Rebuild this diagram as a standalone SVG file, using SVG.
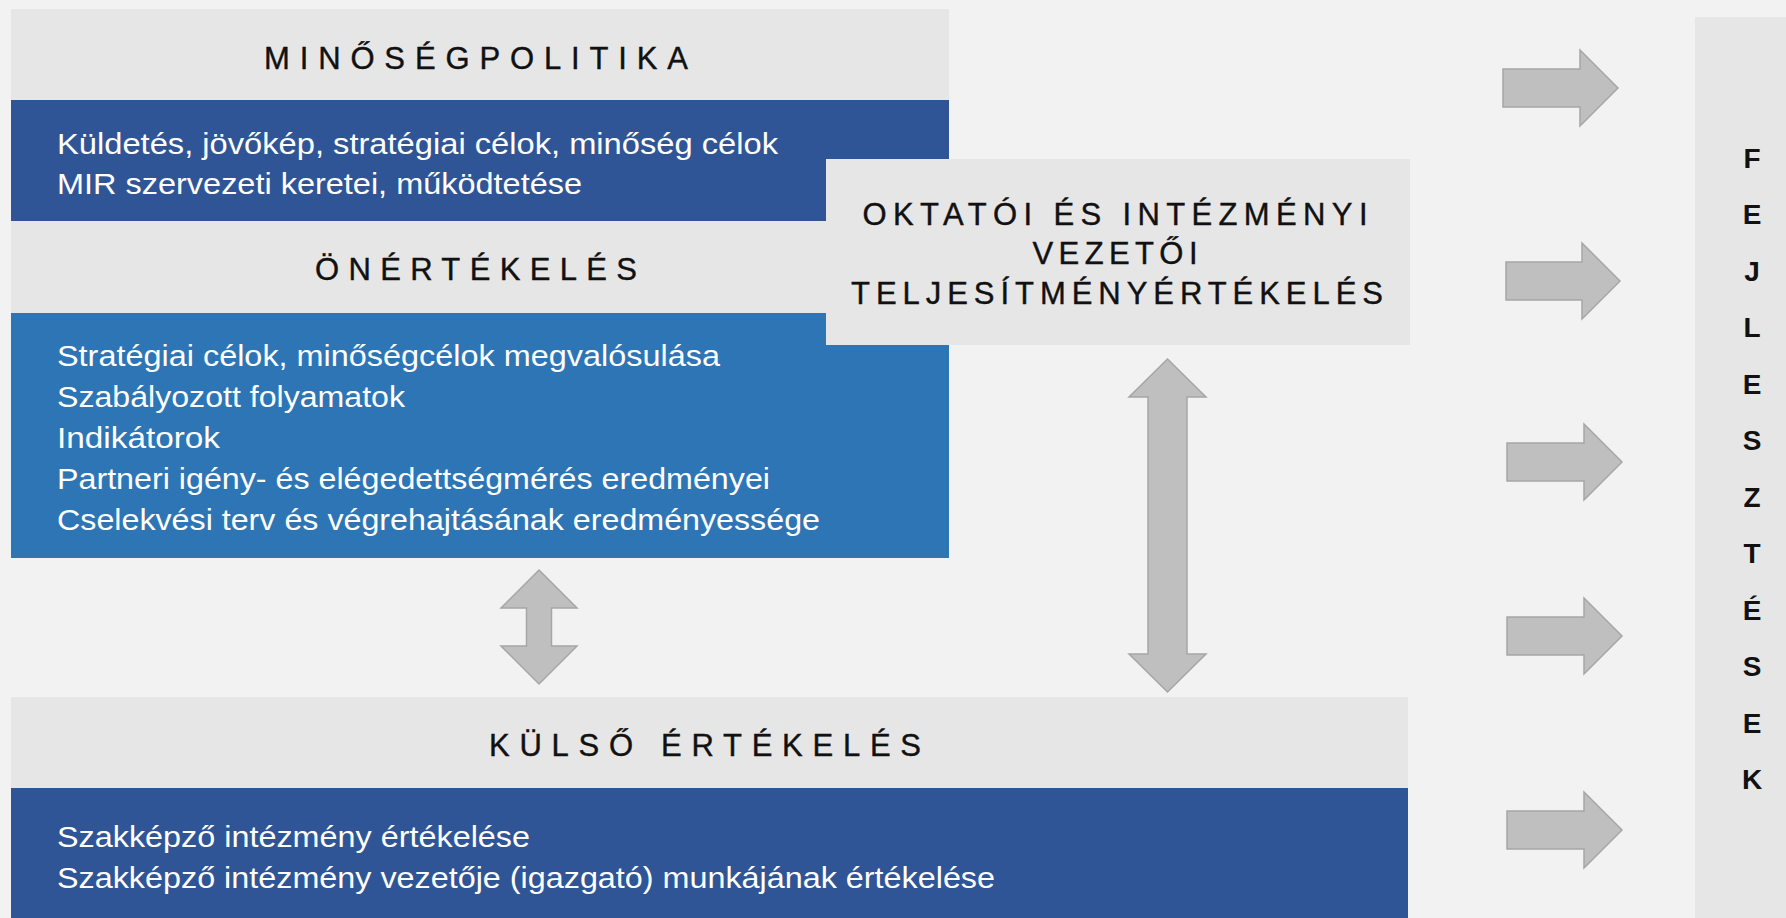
<svg xmlns="http://www.w3.org/2000/svg" width="1786" height="918" viewBox="0 0 1786 918">
<style>
.bg{fill:#F2F2F2}
.gray{fill:#E7E6E6}
.dblue{fill:#2F5597}
.mblue{fill:#2E75B6}
.arrow{fill:#BFBFBF;stroke:#A6A6A6;stroke-width:1.5;stroke-linejoin:miter}
.head{font-family:"Liberation Sans",Arial,sans-serif;font-size:31px;fill:#111;stroke:#111;stroke-width:0.4;text-anchor:middle}
.body{font-family:"Liberation Sans",Arial,sans-serif;font-size:29px;fill:#FFFFFF}
.vert{font-family:"Liberation Sans",Arial,sans-serif;font-size:28px;font-weight:bold;fill:#111;text-anchor:middle}
</style>
<rect class="bg" x="0" y="0" width="1786" height="918"/>

<g id="minosegpolitika">
  <rect class="gray" x="11" y="9" width="938" height="91"/>
  <text class="head" x="476" y="69" textLength="424" lengthAdjust="spacing">MINŐSÉGPOLITIKA</text>
</g>
<g id="minosegpolitika-content">
  <rect class="dblue" x="11" y="100" width="938" height="121"/>
  <text class="body" x="57" y="154" textLength="721" lengthAdjust="spacingAndGlyphs">Küldetés, jövőkép, stratégiai célok, minőség célok</text>
  <text class="body" x="57" y="194" textLength="525" lengthAdjust="spacingAndGlyphs">MIR szervezeti keretei, működtetése</text>
</g>
<g id="onertekeles">
  <rect class="gray" x="11" y="221" width="938" height="92"/>
  <text class="head" x="476" y="280" textLength="322" lengthAdjust="spacing">ÖNÉRTÉKELÉS</text>
</g>
<g id="onertekeles-content">
  <rect class="mblue" x="11" y="313" width="938" height="245"/>
  <text class="body" x="57" y="366" textLength="663" lengthAdjust="spacingAndGlyphs">Stratégiai célok, minőségcélok megvalósulása</text>
  <text class="body" x="57" y="407" textLength="348" lengthAdjust="spacingAndGlyphs">Szabályozott folyamatok</text>
  <text class="body" x="57" y="448" textLength="163" lengthAdjust="spacingAndGlyphs">Indikátorok</text>
  <text class="body" x="57" y="489" textLength="713" lengthAdjust="spacingAndGlyphs">Partneri igény- és elégedettségmérés eredményei</text>
  <text class="body" x="57" y="530" textLength="763" lengthAdjust="spacingAndGlyphs">Cselekvési terv és végrehajtásának eredményessége</text>
</g>
<g id="oktatoi">
  <rect class="gray" x="826" y="159" width="584" height="186"/>
  <text class="head" x="1115" y="225" textLength="505" lengthAdjust="spacing">OKTATÓI ÉS INTÉZMÉNYI</text>
  <text class="head" x="1115" y="264" textLength="165" lengthAdjust="spacing">VEZETŐI</text>
  <text class="head" x="1117" y="304" textLength="532" lengthAdjust="spacing">TELJESÍTMÉNYÉRTÉKELÉS</text>
</g>
<g id="kulso">
  <rect class="gray" x="11" y="697" width="1397" height="91"/>
  <text class="head" x="705" y="756" textLength="432" lengthAdjust="spacing">KÜLSŐ ÉRTÉKELÉS</text>
</g>
<g id="kulso-content">
  <rect class="dblue" x="11" y="788" width="1397" height="130"/>
  <text class="body" x="57" y="847" textLength="473" lengthAdjust="spacingAndGlyphs">Szakképző intézmény értékelése</text>
  <text class="body" x="57" y="888" textLength="938" lengthAdjust="spacingAndGlyphs">Szakképző intézmény vezetője (igazgató) munkájának értékelése</text>
</g>
<g id="fejlesztesek">
  <rect class="gray" x="1695" y="17" width="91" height="901"/>
  <text class="vert" x="1752" y="168">F</text>
  <text class="vert" x="1752" y="224">E</text>
  <text class="vert" x="1752" y="281">J</text>
  <text class="vert" x="1752" y="337">L</text>
  <text class="vert" x="1752" y="394">E</text>
  <text class="vert" x="1752" y="450">S</text>
  <text class="vert" x="1752" y="507">Z</text>
  <text class="vert" x="1752" y="563">T</text>
  <text class="vert" x="1752" y="620">É</text>
  <text class="vert" x="1752" y="676">S</text>
  <text class="vert" x="1752" y="733">E</text>
  <text class="vert" x="1752" y="789">K</text>
</g>
<g id="connectors">
  <path class="arrow" d="M539,570 L577,608 L551.5,608 L551.5,646 L577,646 L539,684 L501,646 L526.5,646 L526.5,608 L501,608 Z"/>
  <path class="arrow" d="M1167.5,359 L1206,397 L1187,397 L1187,654 L1206,654 L1167.5,692 L1129,654 L1148,654 L1148,397 L1129,397 Z"/>
  <path class="arrow" d="M1503,69 L1580,69 L1580,50 L1618,88 L1580,126 L1580,107 L1503,107 Z"/>
  <path class="arrow" d="M1506,262 L1582,262 L1582,243 L1620,281 L1582,319 L1582,300 L1506,300 Z"/>
  <path class="arrow" d="M1507,443 L1584,443 L1584,424 L1622,462 L1584,500 L1584,481 L1507,481 Z"/>
  <path class="arrow" d="M1507,617 L1584,617 L1584,598 L1622,636 L1584,674 L1584,655 L1507,655 Z"/>
  <path class="arrow" d="M1507,811 L1584,811 L1584,792 L1622,830 L1584,868 L1584,849 L1507,849 Z"/>
</g>
</svg>
